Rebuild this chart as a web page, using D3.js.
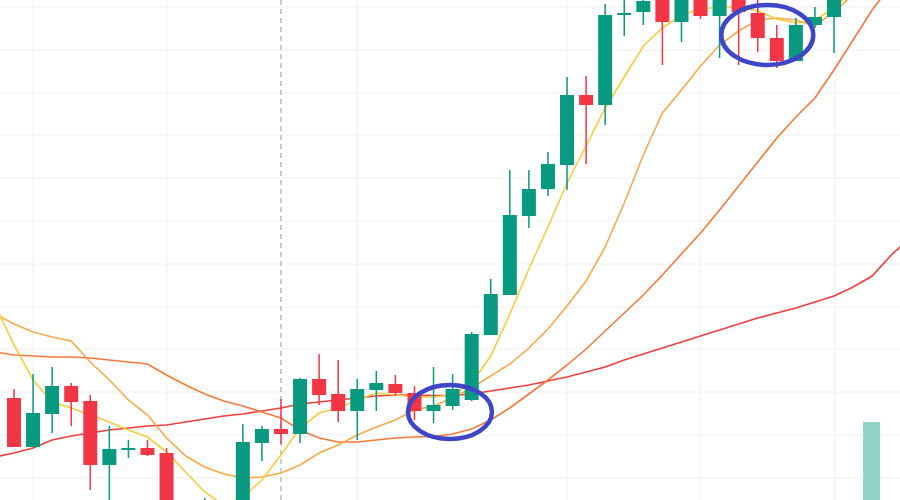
<!DOCTYPE html>
<html>
<head>
<meta charset="utf-8">
<script src="https://cdn.jsdelivr.net/npm/d3@7"></script>
<style>
  body { margin: 0; background: #fff; }
</style>
</head>
<body>
<div id="chart"></div>
<script>
// candles (price units), index 0..43
var opens  = [102,53,86,114,99,35,50,52,47,-20,-40,-60,-20,57,71,66,121,106,89,110,116,107,89,94,100,165,205,284,311,335,405,395,485,488,510,478,515,484,515,487,462,439,475,483];
var highs  = [111,126,133,117,105,74,60,60,52,-10,2,-15,76,74,101,122,146,140,121,129,125,114,133,126,168,221,330,330,348,423,424,496,505,510,520,520,525,525,525,500,475,482,493,525];
var lows   = [53,53,67,74,10,-5,42,44,-40,-60,-50,-70,-30,39,56,57,95,78,60,89,104,80,77,90,99,165,205,272,304,310,336,375,464,475,435,458,481,442,435,448,432,439,472,447];
var closes = [53,87,114,98,35,51,52,45,-30,-50,-10,-30,58,71,66,121,105,89,111,117,107,89,95,111,166,206,285,311,336,405,395,485,487,499,478,510,484,515,488,462,439,475,483,510];

// moving averages, starting at index -1
var ma5  = [195,155,120,98,92,85,78,70,63,48,28,8,-5,3,20,45,72,87,92,100,107,105,103,103,105,117,144,186,231,273,317,354,392,423,454,472,485,491,493,493,489,481,477,480,492,510,525,540];
var ma10 = [186,176,168,163,159,138,120,100,85,62,44,33,26,22,23,27,35,47,55,65,73,80,90,94,102,112,124,136,152,171,194,219,253,297,345,387,410,434,455,469,480,482,480,474,488,505,520,535];
var ma20 = [148,145,144,143,143,142,140,138,136,125,115,106,99,94,88,82,70,62,58,58,60,62,63,63.5,66,71,80,92,106,120,135,151,169,187,205,225,246,267,290,314,338,362,383,402,430,460,490,515];
var ma60 = [43,47,52,60,64,67,70,72,74,75,78,81,84,86,89,92,96,98,100,102,104,105,105,104.5,104.5,106,109,112,115,119,123,128,133,140,146,152,158,164,170,176,182,187,192,198,204,213,224,245,262];

var volIndex = [44.97];
var volValues = [78];

var gridPrices = [22,65,108,151,193,236,279,322,365,407,450,493];
var gridIdx = [1.0,8.02,17.99,29.0,35.97,43.05];
var markerIdx = 14.0;

// highlighted zones: [center index, center price, rx, ry]
var rings = [[22.86,88,42,27],[39.5,465,46,30]];

var W = 900, H = 500;
var x = d3.scaleLinear().domain([-0.734, 46.46]).range([0, W]);
var y = d3.scaleLinear().domain([0, 500]).range([H, 0]);
var vy = d3.scaleLinear().domain([0, 100]).range([0, 100]);
var up = "#089981", down = "#f23645";

var svg = d3.select("#chart").append("svg").attr("width", W).attr("height", H);
svg.append("defs").append("clipPath").attr("id", "clip")
  .append("rect").attr("width", W).attr("height", H);
var g = svg.append("g").attr("clip-path", "url(#clip)");

g.selectAll(".gy").data(gridPrices).enter().append("line")
  .attr("x1", 0).attr("x2", W).attr("y1", d => y(d)).attr("y2", d => y(d))
  .attr("stroke", "#f0f0f0");
g.selectAll(".gx").data(gridIdx).enter().append("line")
  .attr("y1", 0).attr("y2", H).attr("x1", d => x(d)).attr("x2", d => x(d))
  .attr("stroke", "#f0f0f0");

g.append("line").attr("x1", x(markerIdx)).attr("x2", x(markerIdx)).attr("y1", 0).attr("y2", H)
  .attr("stroke", "#9a9a9a").attr("stroke-dasharray", "5,4");

g.selectAll(".vol").data(volValues).enter().append("rect")
  .attr("x", (d, i) => x(volIndex[i]) - 8.5).attr("width", 17)
  .attr("y", d => H - vy(d)).attr("height", d => vy(d))
  .attr("fill", "#8fd3c8");

var line = d3.line().x((d, i) => x(i - 1)).y(d => y(d));
[[ma60, "#f23d3d"], [ma20, "#f7783c"], [ma10, "#f9a84a"], [ma5, "#f9cc3c"]].forEach(function(s) {
  g.append("path").attr("d", line(s[0])).attr("fill", "none")
    .attr("stroke", s[1]).attr("stroke-width", 1.6);
});

var candles = opens.map((o, i) => ({ i: i, o: o, h: highs[i], l: lows[i], c: closes[i] }));
var cg = g.selectAll(".candle").data(candles).enter().append("g");
cg.append("line")
  .attr("x1", d => x(d.i)).attr("x2", d => x(d.i))
  .attr("y1", d => y(d.h)).attr("y2", d => y(d.l))
  .attr("stroke", d => d.c >= d.o ? up : down).attr("stroke-width", 1.5);
cg.append("rect")
  .attr("x", d => x(d.i) - 7).attr("width", 14)
  .attr("y", d => y(Math.max(d.o, d.c)))
  .attr("height", d => Math.max(2, Math.abs(y(d.o) - y(d.c))))
  .attr("fill", d => d.c >= d.o ? up : down);

g.selectAll(".ring").data(rings).enter().append("ellipse")
  .attr("cx", d => x(d[0])).attr("cy", d => y(d[1]))
  .attr("rx", d => d[2]).attr("ry", d => d[3])
  .attr("fill", "none").attr("stroke", "#3d45c8").attr("stroke-width", 4.5);
</script>
</body>
</html>
